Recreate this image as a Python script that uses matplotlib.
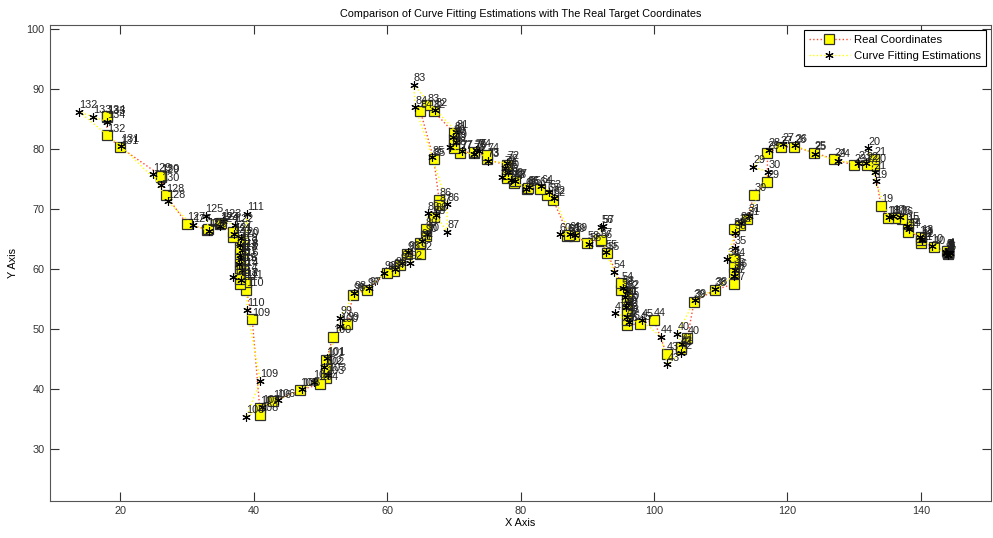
import numpy as np
import matplotlib.pyplot as plt

plt.rcParams['font.family'] = ['Liberation Sans', 'DejaVu Sans']

# real target coordinates (index 1..134)
real_x = [144.1, 144.1, 144.0, 144.1, 144.0, 144.1, 144.0, 144.1, 143.9, 141.9,
          140.0, 140.0, 140.0, 138.0, 138.0, 137.1, 136.1, 135.0, 134.0, 133.0,
          133.0, 131.9, 130.0, 127.0, 124.0, 121.0, 119.0, 117.0, 117.0, 115.0,
          114.0, 112.9, 112.0, 112.0, 112.0, 112.0, 112.0, 109.1, 106.0, 105.0,
          104.0, 104.0, 101.9, 100.0, 97.9, 95.9, 95.9, 95.9, 95.9, 95.9,
          95.9, 95.9, 95.1, 95.1, 93.0, 92.0, 92.0, 90.0, 88.0, 87.0,
          87.2, 84.9, 84.0, 82.9, 81.0, 81.1, 79.0, 79.1, 77.9, 77.9,
          77.9, 77.9, 75.0, 75.0, 73.1, 73.1, 71.0, 70.1, 70.1, 70.1,
          70.1, 67.0, 66.0, 65.0, 67.0, 67.8, 67.8, 67.0, 65.8, 65.8,
          65.0, 65.0, 63.0, 62.0, 61.0, 60.0, 57.0, 54.9, 54.0, 51.9,
          50.9, 50.9, 50.9, 50.0, 47.0, 42.9, 41.0, 41.0, 39.8, 38.9,
          38.9, 38.0, 38.0, 38.0, 38.0, 38.0, 38.0, 38.0, 38.0, 38.0,
          36.9, 36.9, 35.0, 35.1, 33.0, 33.1, 30.0, 26.9, 26.1, 26.2,
          20.0, 18.0, 18.0, 18.0]
real_y = [62.5, 62.6, 62.8, 63.0, 62.7, 62.9, 62.6, 62.8, 63.0, 63.6,
          64.3, 64.8, 65.4, 66.2, 67.5, 68.4, 68.5, 68.5, 70.5, 77.3,
          78.4, 77.3, 77.3, 78.3, 79.4, 80.4, 80.3, 79.4, 74.5, 72.4,
          68.4, 67.3, 66.6, 61.6, 60.4, 59.3, 57.5, 56.5, 54.5, 48.5,
          46.7, 46.9, 45.8, 51.5, 50.8, 50.7, 51.5, 52.3, 53.2, 54.1,
          55.0, 56.0, 56.5, 57.6, 62.6, 64.6, 64.9, 64.4, 65.5, 65.5,
          65.6, 71.5, 72.4, 73.4, 73.4, 73.5, 74.4, 74.6, 75.1, 75.8,
          76.6, 77.3, 78.3, 79.0, 79.4, 79.5, 79.4, 80.1, 80.9, 81.7,
          82.6, 86.3, 87.3, 86.3, 78.3, 71.5, 70.6, 68.6, 66.6, 65.5,
          64.3, 62.5, 62.5, 60.7, 59.7, 59.3, 56.5, 55.7, 50.8, 48.7,
          44.8, 43.3, 41.8, 40.8, 39.8, 37.9, 36.8, 35.7, 51.6, 56.5,
          57.9, 57.5, 58.3, 59.1, 60.0, 60.8, 61.7, 62.5, 63.4, 64.8,
          65.4, 66.2, 67.5, 67.6, 66.5, 66.6, 67.5, 72.3, 75.4, 75.5,
          80.3, 82.3, 85.3, 85.5]

# curve fitting estimations (index 1..134)
est_x = [144.2, 144.0, 143.8, 144.1, 144.3, 143.9, 144.0, 144.2, 143.7, 141.6,
         140.2, 139.8, 140.1, 138.2, 137.9, 136.8, 135.8, 135.2, 133.2, 132.1,
         133.1, 131.8, 130.6, 127.6, 124.1, 121.2, 119.3, 117.2, 114.9, 117.1,
         114.2, 113.0, 112.1, 111.0, 112.1, 112.2, 112.0, 109.2, 106.1, 103.5,
         104.2, 104.0, 102.0, 101.0, 98.2, 96.2, 94.1, 96.0, 95.8, 96.1,
         95.7, 96.0, 95.3, 94.0, 92.8, 92.1, 92.3, 90.3, 88.2, 85.9,
         87.4, 85.0, 84.3, 83.1, 81.3, 80.8, 79.2, 78.6, 77.2, 78.1,
         77.6, 78.0, 75.1, 73.8, 73.3, 73.0, 71.2, 69.5, 70.3, 69.9,
         70.4, 67.2, 64.0, 64.2, 66.8, 69.0, 69.0, 67.3, 66.1, 66.0,
         65.2, 63.5, 63.2, 62.2, 61.2, 59.6, 57.3, 55.1, 53.0, 53.0,
         51.0, 50.5, 51.2, 49.0, 47.3, 43.6, 41.3, 38.9, 41.0, 39.0,
         39.0, 38.1, 36.9, 38.2, 37.8, 38.1, 37.9, 38.2, 38.0, 38.1,
         37.1, 37.2, 35.4, 35.0, 32.8, 33.3, 30.9, 27.1, 25.0, 26.1,
         20.1, 13.9, 15.9, 18.0]
est_y = [63.1, 62.4, 62.9, 63.2, 62.6, 62.7, 63.0, 62.9, 62.6, 63.9,
         64.8, 65.3, 65.0, 66.6, 67.1, 68.6, 68.8, 68.6, 74.6, 80.1,
         76.1, 77.6, 77.7, 78.0, 79.2, 80.6, 80.8, 79.9, 77.0, 76.2,
         68.9, 67.6, 66.0, 61.6, 63.5, 59.8, 58.9, 56.7, 54.8, 49.2,
         47.4, 46.0, 44.1, 48.7, 51.4, 51.1, 52.6, 52.0, 53.6, 54.4,
         55.3, 56.3, 56.9, 59.5, 62.9, 67.0, 67.1, 64.1, 65.7, 65.8,
         65.9, 71.9, 72.9, 73.8, 73.6, 73.3, 74.7, 74.9, 75.4, 76.2,
         76.9, 77.7, 78.0, 79.7, 79.8, 79.1, 79.6, 80.3, 81.2, 82.0,
         82.9, 86.6, 90.7, 87.0, 78.6, 70.8, 66.2, 69.0, 69.3, 65.8,
         64.7, 61.0, 62.8, 61.0, 60.0, 59.4, 56.8, 56.0, 51.8, 50.5,
         45.1, 43.6, 42.3, 41.2, 39.9, 38.1, 37.0, 35.3, 41.3, 53.2,
         69.2, 58.2, 58.6, 59.9, 60.8, 61.6, 62.4, 63.1, 64.0, 65.1,
         65.8, 67.3, 68.0, 67.2, 68.9, 66.4, 67.3, 71.3, 75.8, 74.0,
         80.5, 86.2, 85.4, 84.6]

fig = plt.figure(figsize=(9.93, 5.38), dpi=100)
ax = fig.add_axes([0.0504, 0.069, 0.9476, 0.8845])

ax.plot(real_x, real_y, ':', color='#ff4a30', lw=1.0, marker='s', ms=6.8,
        mfc='#ffff00', mec='#303030', mew=0.9, label='Real Coordinates')
ax.plot(est_x, est_y, ':', color='#ffff00', lw=1.0, marker=(6, 2, 0), ms=6,
        mec='black', mew=0.8, label='Curve Fitting Estimations')

for i in range(len(real_x)):
    ax.text(real_x[i], real_y[i] + 1.1, str(i + 1), fontsize=7.8,
            ha='left', va='center', color='#222222')
    ax.text(est_x[i], est_y[i] + 1.1, str(i + 1), fontsize=7.8,
            ha='left', va='center', color='#222222')

ax.set_xlim(9.5, 150.5)
ax.set_ylim(21.3, 100.7)
ax.set_xticks([20, 40, 60, 80, 100, 120, 140])
ax.set_yticks([30, 40, 50, 60, 70, 80, 90, 100])
ax.tick_params(direction='in', length=6.5, width=0.8, top=True, right=True,
               labelsize=7.8, colors='#333333', pad=4)
for s in ax.spines.values():
    s.set_color('#555555')
    s.set_linewidth(0.8)

ax.set_title('Comparison of Curve Fitting Estimations with The Real Target Coordinates',
             fontsize=7.8, pad=6)
ax.set_xlabel('X Axis', fontsize=7.8, labelpad=1)
ax.set_ylabel('Y Axis', fontsize=7.8, labelpad=6)

leg = ax.legend(loc='upper right', fontsize=8.2, fancybox=False, framealpha=1,
                edgecolor='black', borderaxespad=0.45, handlelength=3.6,
                borderpad=0.4, labelspacing=0.55, handletextpad=0.4)
leg.get_frame().set_linewidth(0.8)

fig.savefig('out.png', dpi=100)
